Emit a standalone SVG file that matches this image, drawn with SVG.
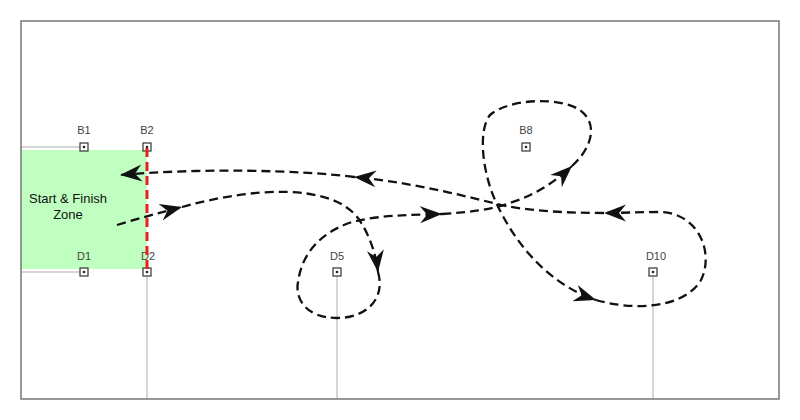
<svg xmlns="http://www.w3.org/2000/svg" width="800" height="420" viewBox="0 0 800 420">
<style>
.frame{fill:none;stroke:#777;stroke-width:1.5}
.guide{stroke:#c8c8c8;stroke-width:1.5;fill:none}
.mk{fill:#fff;stroke:#333;stroke-width:1.2}
.dot{fill:#222}
.lbl{font-family:"Liberation Sans",Arial,sans-serif;font-size:11px;fill:#444;text-anchor:middle}
.zone{font-family:"Liberation Sans",Arial,sans-serif;font-size:13px;fill:#111;text-anchor:middle}
.route{fill:none;stroke:#111;stroke-width:2.3;stroke-dasharray:9 5}
</style>
<defs>
<marker id="arr" markerUnits="userSpaceOnUse" markerWidth="24" markerHeight="20" refX="22" refY="10" orient="auto" viewBox="0 0 24 20">
<path d="M0,1.5 L22,10 L0,18.5 L7,10 z" fill="#111"/>
</marker>
</defs>
<rect x="0" y="0" width="800" height="420" fill="#fff"/>
<g id="guides">
<line class="guide" x1="21" y1="147" x2="80" y2="147"/>
<line class="guide" x1="21" y1="272" x2="80" y2="272"/>
<line class="guide" x1="147" y1="276" x2="147" y2="399"/>
<line class="guide" x1="337" y1="276" x2="337" y2="399"/>
<line class="guide" x1="653" y1="276" x2="653" y2="399"/>
</g>
<g id="zone">
<rect x="21" y="150" width="126" height="119" fill="#bfffbf"/>
<text class="zone" x="68" y="203">Start &amp; Finish</text>
<text class="zone" x="68" y="219">Zone</text>
</g>
<rect class="frame" x="21" y="21" width="758" height="378"/>
<g id="B1"><rect class="mk" x="80" y="143" width="8" height="8"/><circle class="dot" cx="84" cy="147" r="1.3"/><text class="lbl" x="84" y="134">B1</text></g>
<g id="B2"><rect class="mk" x="143" y="143" width="8" height="8"/><circle class="dot" cx="147" cy="147" r="1.3"/><text class="lbl" x="147" y="134">B2</text></g>
<g id="D1"><rect class="mk" x="80" y="268" width="8" height="8"/><circle class="dot" cx="84" cy="272" r="1.3"/><text class="lbl" x="84" y="260">D1</text></g>
<g id="D2"><rect class="mk" x="143" y="268" width="8" height="8"/><circle class="dot" cx="147" cy="272" r="1.3"/><text class="lbl" x="148" y="260">D2</text></g>
<g id="D5"><rect class="mk" x="333" y="268" width="8" height="8"/><circle class="dot" cx="337" cy="272" r="1.3"/><text class="lbl" x="337" y="260">D5</text></g>
<g id="B8"><rect class="mk" x="522" y="143" width="8" height="8"/><circle class="dot" cx="526" cy="147" r="1.3"/><text class="lbl" x="526" y="134">B8</text></g>
<g id="D10"><rect class="mk" x="649" y="268" width="8" height="8"/><circle class="dot" cx="653" cy="272" r="1.3"/><text class="lbl" x="656" y="260">D10</text></g>
<line id="gate" x1="147" y1="148" x2="147" y2="272" stroke="#e82020" stroke-width="3" stroke-dasharray="9 5"/>
<g id="connectors">
<path class="route" marker-end="url(#arr)" d="M117,225 Q150,215 182,207"/>
<path class="route" marker-end="url(#arr)" d="M182,207 C250,188 330,182 358,218 C370,235 376,255 378,272"/>
<path class="route" marker-end="url(#arr)" d="M378,272 C386,300 365,318 337,318 C305,318 295,298 298,282 C302,252 322,232 352,222 C380,215 410,215 442,214"/>
<path class="route" marker-end="url(#arr)" d="M442,214 C470,212 490,210 510,203 C535,195 555,182 572,166"/>
<path class="route" marker-end="url(#arr)" d="M572,166 C590,150 600,125 580,110 C560,97 510,98 490,115 C478,130 482,170 495,200 C515,245 550,285 596,300"/>
<path class="route" marker-end="url(#arr)" d="M596,300 C630,310 680,310 700,282 C715,255 700,213 660,212 C640,212 620,213 604,213"/>
<path class="route" marker-end="url(#arr)" d="M604,213 C560,213 520,210 497,204 C450,192 400,181 354,177"/>
<path class="route" marker-end="url(#arr)" d="M354,177 C300,170 200,168 120,175"/>
</g>
</svg>
